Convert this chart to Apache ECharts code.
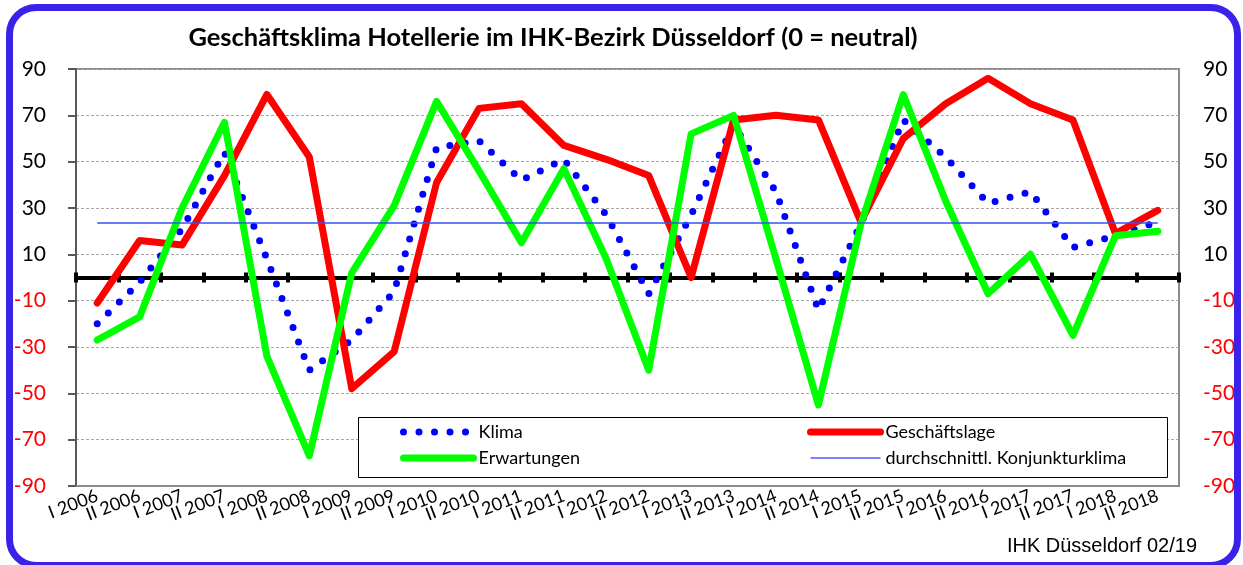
<!DOCTYPE html>
<html>
<head>
<meta charset="utf-8">
<script src="https://cdn.jsdelivr.net/npm/echarts@6/dist/echarts.min.js"></script>
<style>
  html, body { margin: 0; padding: 0; background: #fff; overflow: hidden; }
  #chart { position: absolute; left: 0; top: 0; width: 1243px; height: 565px; }
  #frame { position: absolute; left: 6px; top: 4px; width: 1221px; height: 551px; border: 7px solid #3a22e8; border-radius: 30px; pointer-events: none; }
</style>
</head>
<body>
<div id="chart"></div>
<div id="frame"></div>
<script>
const categories = ['I 2006','II 2006','I 2007','II 2007','I 2008','II 2008','I 2009','II 2009','I 2010','II 2010','I 2011','II 2011','I 2012','II 2012','I 2013','II 2013','I 2014','II 2014','I 2015','II 2015','I 2016','II 2016','I 2017','II 2017','I 2018','II 2018'];
const klima = [-20, -2, 21, 54, 8, -40, -27, -6, 56, 59, 42, 51, 27, -7, 27, 66, 37, -14, 23, 68, 52, 32, 37, 13, 18, 24];
const geschaeftslage = [-11, 16, 14, 44, 79, 52, -48, -32, 41, 73, 75, 57, 51, 44, 0, 68, 70, 68, 24, 60, 75, 86, 75, 68, 19, 29];
const erwartungen = [-27, -17, 30, 67, -34, -77, 2, 31, 76, 46, 15, 47, 8, -40, 62, 70, 8, -55, 23, 79, 33, -7, 10, -25, 18, 20];
const durchschnitt = [23.5, 23.5, 23.5, 23.5, 23.5, 23.5, 23.5, 23.5, 23.5, 23.5, 23.5, 23.5, 23.5, 23.5, 23.5, 23.5, 23.5, 23.5, 23.5, 23.5, 23.5, 23.5, 23.5, 23.5, 23.5, 23.5];
const yMin = -90, yMax = 90, yStep = 20;

const FONT = 'Lato';
const yLabel = {
  fontFamily: FONT, fontSize: 21,
  formatter: v => (v < 0 ? '{n|' + v + '}' : '{p|' + v + '}'),
  rich: {
    n: { color: '#ff0000', fontFamily: FONT, fontSize: 21 },
    p: { color: '#000000', fontFamily: FONT, fontSize: 21 }
  }
};

const styles = {
  'Klima': { color: '#0000ff', width: 7, type: [0, 15.5], cap: 'round' },
  'Geschäftslage': { color: '#ff0000', width: 7, cap: 'round', join: 'round' },
  'Erwartungen': { color: '#00ff00', width: 7, cap: 'round', join: 'round' },
  'durchschnittl. Konjunkturklima': { color: '#3355ee', width: 1.5 }
};
const legendStyles = {
  'Klima': { color: '#0000ff', width: 7, type: [0, 15.5], cap: 'round' },
  'Geschäftslage': { color: '#ff0000', width: 7, cap: 'round' },
  'Erwartungen': { color: '#00ff00', width: 7, cap: 'round' },
  'durchschnittl. Konjunkturklima': { color: '#0000ff', width: 1, cap: 'butt' }
};
const legendItem = name => ({ name: name, lineStyle: legendStyles[name], itemStyle: { opacity: 0 } });
const legendBase = {
  orient: 'vertical', top: 423, padding: 0,
  itemWidth: 70, itemHeight: 20, itemGap: 8,
  itemStyle: { opacity: 0 },
  textStyle: { fontFamily: FONT, fontSize: 18, color: '#000' }
};

const chart = echarts.init(document.getElementById('chart'), null, { renderer: 'canvas' });
chart.setOption({
  animation: false,
  backgroundColor: '#ffffff',
  title: [
    { text: 'Geschäftsklima Hotellerie im IHK-Bezirk Düsseldorf (0 = neutral)', left: 553, textAlign: 'center', top: 25, padding: 0,
      textStyle: { fontFamily: FONT, fontWeight: 'bold', fontSize: 25.5, color: '#000' } },
    { text: 'IHK Düsseldorf 02/19', right: 46, top: 536, padding: 0,
      textStyle: { fontFamily: 'Liberation Sans', fontWeight: 'normal', fontSize: 20, color: '#000' } }
  ],
  graphic: [
    { type: 'rect', z: 1, shape: { x: 358.5, y: 417.5, width: 809, height: 60 },
      style: { fill: '#ffffff', stroke: '#000000', lineWidth: 1 } }
  ],
  grid: { left: 76, right: 64, top: 69, bottom: 79, show: true, borderColor: '#8c8c8c', borderWidth: 2, containLabel: false },
  legend: [
    Object.assign({}, legendBase, { left: 400, data: [legendItem('Klima'), legendItem('Erwartungen')] }),
    Object.assign({}, legendBase, { left: 807, data: [legendItem('Geschäftslage'), legendItem('durchschnittl. Konjunkturklima')] })
  ],
  xAxis: [
    { type: 'category', data: categories, position: 'bottom', boundaryGap: true,
      axisLine: { show: true, onZero: false, lineStyle: { color: '#8c8c8c', width: 2 } },
      axisTick: { show: false },
      axisLabel: { show: true, interval: 0, rotate: 21, margin: 9, fontFamily: FONT, fontSize: 18, color: '#000' },
      splitLine: { show: false } },
    { type: 'category', data: categories, position: 'bottom', boundaryGap: true,
      axisLine: { show: true, onZero: true, onZeroAxisIndex: 0, lineStyle: { color: '#000', width: 4 } },
      axisTick: { show: true, interval: 0, length: 5, lineStyle: { color: '#000', width: 4 } },
      axisLabel: { show: false }, splitLine: { show: false } },
    { type: 'category', data: categories, position: 'top', boundaryGap: true,
      axisLine: { show: false, onZero: true, onZeroAxisIndex: 0 },
      axisTick: { show: true, interval: 0, length: 5, lineStyle: { color: '#000', width: 4 } },
      axisLabel: { show: false }, splitLine: { show: false } }
  ],
  yAxis: [
    { type: 'value', position: 'left', min: yMin, max: yMax, interval: yStep,
      axisLine: { show: true, lineStyle: { color: '#595959', width: 2 } },
      axisTick: { show: true, length: 8, lineStyle: { color: '#595959', width: 2 } },
      axisLabel: Object.assign({ margin: 30 }, yLabel),
      splitLine: { show: true, lineStyle: { color: '#a6a6a6', width: 1, type: [3, 2] } } },
    { type: 'value', position: 'right', min: yMin, max: yMax, interval: yStep,
      axisLine: { show: true, lineStyle: { color: '#8c8c8c', width: 2 } },
      axisTick: { show: false },
      axisLabel: Object.assign({ margin: 24 }, yLabel),
      splitLine: { show: false } }
  ],
  series: [
    { name: 'Klima', type: 'line', data: klima, xAxisIndex: 0, yAxisIndex: 0, symbol: 'none', z: 3,
      lineStyle: styles['Klima'], itemStyle: { color: '#0000ff' } },
    { name: 'Geschäftslage', type: 'line', data: geschaeftslage, xAxisIndex: 0, yAxisIndex: 0, symbol: 'none', z: 4,
      lineStyle: styles['Geschäftslage'], itemStyle: { color: '#ff0000' } },
    { name: 'Erwartungen', type: 'line', data: erwartungen, xAxisIndex: 0, yAxisIndex: 0, symbol: 'none', z: 5,
      lineStyle: styles['Erwartungen'], itemStyle: { color: '#00ff00' } },
    { name: 'durchschnittl. Konjunkturklima', type: 'line', data: durchschnitt, xAxisIndex: 0, yAxisIndex: 0, symbol: 'none', z: 6,
      lineStyle: styles['durchschnittl. Konjunkturklima'], itemStyle: { color: '#3355ee' } }
  ]
});
</script>
</body>
</html>
